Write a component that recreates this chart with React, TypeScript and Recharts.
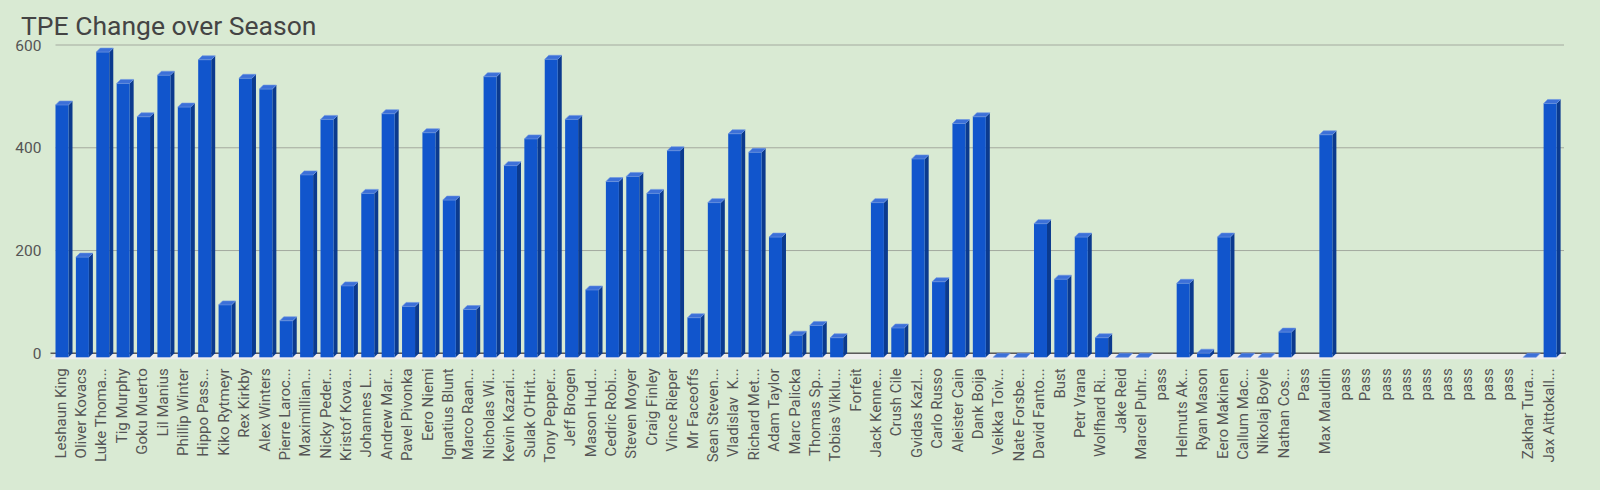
import { BarChart, Bar, XAxis, YAxis, CartesianGrid, ReferenceLine } from 'recharts';

const players = [
  'Leshaun King', 'Oliver Kovacs', 'Luke Thoma...', 'Tig Murphy', 'Goku Muerto',
  'Lil Manius', 'Phillip Winter', 'Hippo Pass...', 'Kiko Rytmeyr', 'Rex Kirkby',
  'Alex Winters', 'Pierre Laroc...', 'Maximillian...', 'Nicky Peder...', 'Kristof Kova...',
  'Johannes L...', 'Andrew Mar...', 'Pavel Pivonka', 'Eero Niemi', 'Ignatius Blunt',
  'Marco Raan...', 'Nicholas Wi...', 'Kevin Kazari...', "Sulak O'Hrit...", 'Tony Pepper...',
  'Jeff Brogen', 'Mason Hud...', 'Cedric Robi...', 'Steven Moyer', 'Craig Finley',
  'Vince Rieper', 'Mr Faceoffs', 'Sean Steven...', 'Vladislav  K...', 'Richard Met...',
  'Adam Taylor', 'Marc Palicka', 'Thomas Sp...', 'Tobias Viklu...', 'Forfeit',
  'Jack Kenne...', 'Crush Cile', 'Gvidas Kazl...', 'Carlo Russo', 'Aleister Cain',
  'Dank Boija', 'Veikka Toiv...', 'Nate Forsbe...', 'David Fanto...', 'Bust',
  'Petr Vrana', 'Wolfhard Ri...', 'Jake Reid', 'Marcel Puhr...', 'pass',
  'Helmuts Ak...', 'Ryan Mason', 'Eero Makinen', 'Callum Mac...', 'Nikolaj Boyle',
  'Nathan Cos...', 'Pass', 'Max Mauldin', 'pass', 'Pass',
  'pass', 'pass', 'pass', 'pass', 'pass',
  'pass', 'pass', 'Zakhar Tura...', 'Jax Aittokall...',
];

const tpeChange: (number | null)[] = [
  491, 195, 594, 533, 468,
  549, 487, 579, 102, 543,
  522, 71, 355, 463, 139,
  319, 474, 99, 437, 306,
  93, 546, 373, 425, 580,
  463, 131, 342, 352, 319,
  402, 77, 301, 435, 399,
  234, 43, 62, 38, null,
  301, 57, 386, 147, 455,
  468, 0, 0, 260, 152,
  234, 38, 0, 0, null,
  144, 8, 234, 0, 0,
  49, null, 433, null, null,
  null, null, null, null, null,
  null, null, 0, 494,
];

const yTicks = [0, 200, 400, 600];

const data = players.map((name, i) => ({ name, tpe: tpeChange[i] }));

const DX = 4;
const DY = 4;

// 3D column: recharts gives the back-plane rect, front face is shifted down-left
const Bar3D = (props: any) => {
  const { x, y, width, height, payload } = props;
  if (payload == null || payload.tpe == null) return <g />;
  const fx = x - DX;
  const fy = y + DY;
  const h = Math.max(0, height);
  return (
    <g>
      <polygon
        points={`${fx + width},${fy} ${x + width},${y} ${x + width},${y + h} ${fx + width},${fy + h}`}
        fill="#0b3a8e"
      />
      <rect x={fx} y={fy} width={width} height={h} fill="#1155cc" />
      <polygon
        points={`${fx},${fy} ${x},${y} ${x + width},${y} ${fx + width},${fy}`}
        fill="#3c70d8"
        stroke="#6b93e2"
        strokeWidth={0.6}
      />
    </g>
  );
};

const Floor = (props: any) => {
  const x1 = Number(props.x1);
  const x2 = Number(props.x2);
  const y1 = Number(props.y1);
  return (
    <g>
      <polygon
        points={`${x1},${y1} ${x2 + 2},${y1} ${x2 - 4},${y1 + 6} ${x1 - 6},${y1 + 6}`}
        fill="#ededed"
      />
      <line x1={x1 - 5} y1={y1} x2={x2 + 2} y2={y1} stroke="#5a5a5a" strokeWidth={1.6} />
    </g>
  );
};

const NameTick = (props: any) => {
  const { x, y, payload } = props;
  return (
    <text
      x={x}
      y={y}
      transform={`rotate(-90, ${x}, ${y})`}
      textAnchor="end"
      fontSize={15}
      fill="#555"
      fontFamily="Roboto"
      style={{ whiteSpace: 'pre' }}
    >
      {payload.value}
    </text>
  );
};

export default function App() {
  return (
    <div
      style={{
        position: 'absolute',
        left: 0,
        top: 0,
        width: 1600,
        height: 490,
        background: '#d9ead3',
        fontFamily: 'Roboto',
      }}
    >
      <svg width={1600} height={50} style={{ position: 'absolute', left: 0, top: 0 }}>
        <text x={21} y={35} fontSize={26.5} fill="#444" fontFamily="Roboto">
          TPE Change over Season
        </text>
      </svg>
      <div style={{ position: 'absolute', left: 0, top: 0 }}>
        <BarChart
          width={1600}
          height={490}
          data={data}
          margin={{ top: 45, right: 36, left: 0, bottom: 0 }}
          barSize={13}
        >
          <CartesianGrid vertical={false} stroke="#a4aa9f" strokeOpacity={1} />
          <XAxis
            dataKey="name"
            interval={0}
            height={136.7}
            axisLine={false}
            tickLine={false}
            tickSize={0}
            tickMargin={15}
            tick={<NameTick />}
          />
          <YAxis
            domain={[0, 600]}
            ticks={yTicks}
            width={55.5}
            axisLine={false}
            tickLine={false}
            tickSize={0}
            tickMargin={14}
            tick={{ fontSize: 15.5, fill: '#555', fontFamily: 'Roboto' }}
          />
          <ReferenceLine y={0} shape={<Floor />} zIndex={-50} />
          <Bar dataKey="tpe" shape={<Bar3D />} isAnimationActive={false} />
        </BarChart>
      </div>
    </div>
  );
}
